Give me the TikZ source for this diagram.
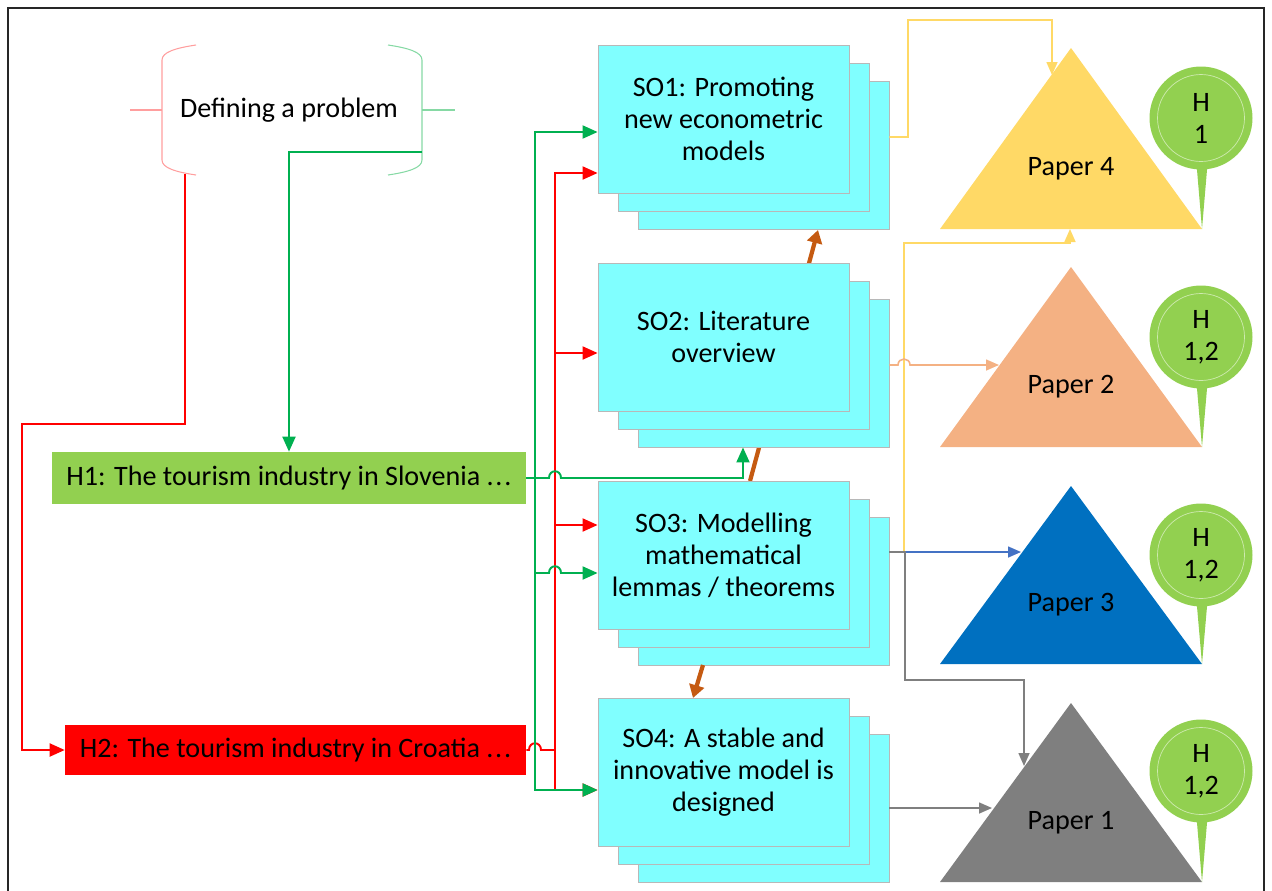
\documentclass[tikz,border=0pt]{standalone}
\usepackage{fontspec}
\setmainfont{Carlito}
\usetikzlibrary{arrows.meta}
\definecolor{socyan}{HTML}{80FFFF}
\definecolor{lgreen}{HTML}{00B050}
\definecolor{lred}{HTML}{FF0000}
\definecolor{hgreen}{HTML}{92D050}
\definecolor{bred}{HTML}{FF9E9E}
\definecolor{bgreen}{HTML}{86D9A4}
\definecolor{orng}{HTML}{C55A11}
\definecolor{yel}{HTML}{FFD966}
\definecolor{salm}{HTML}{F4B183}
\definecolor{bline}{HTML}{4472C4}
\definecolor{pblue}{HTML}{0070C0}
\definecolor{gry}{HTML}{7F7F7F}
\newcommand\mydots{.\kern1pt.\kern1pt.}
\tikzset{
  sobox/.style={draw=black!28, fill=socyan, line width=0.5pt, minimum width=5.02cm, minimum height=2.96cm, inner sep=0pt, align=center},
  gline/.style={draw=lgreen, line width=1.1pt},
  rline/.style={draw=lred, line width=1.1pt},
  tip/.style={-{Triangle[length=3mm,width=2.6mm]}},
  stip/.style={-{Triangle[length=2.6mm,width=2.2mm]}},
  oline/.style={draw=orng, line width=2.4pt, -{Triangle[length=2.6mm,width=3mm]}},
  lbl/.style={align=center, inner sep=0pt},
  pinc/.style={circle, fill=hgreen, minimum size=2.06cm, inner sep=0pt},
  pini/.style={circle, draw=white!55!hgreen, line width=0.4pt, minimum size=1.74cm, inner sep=0pt, align=center},
}
\begin{document}
\begin{tikzpicture}[x=0.02cm, y=-0.02cm, font=\fontsize{16}{18.2}\selectfont]
\useasboundingbox (0,0) rectangle (1272,890);
% frame
\draw[black!85, line width=1.1pt] (8,892) -- (8,8) -- (1264,8) -- (1264,892);

% brace "Defining a problem"
\node[lbl] (def) at (289,110) {Defining a problem};
\coordinate (bl) at (162,110);
\coordinate (br) at (422,110);
\draw[bred, line width=0.6pt] (196,45) .. controls (176,48) and (162,52) .. (162,60) -- (162,160) .. controls (162,168) and (176,172) .. (196,175);
\draw[bred, line width=0.6pt] (130,110) -- (bl);
\draw[bgreen, line width=0.6pt] (388,45) .. controls (408,48) and (422,52) .. (422,60) -- (422,160) .. controls (422,168) and (408,172) .. (388,175);
\draw[bgreen, line width=0.6pt] (br) -- (455,110);

% orange arrow behind SO2
\draw[oline] (750,481) -- (818,230);

% SO boxes
\node[sobox] (so1c) at (763.5,155) {};
\node[sobox] (so1b) at (743.5,137) {};
\node[sobox] (so1) at (723.5,119) {SO1: Promoting\\new econometric\\models};
\node[sobox] (so2c) at (763.5,373) {};
\node[sobox] (so2b) at (743.5,355) {};
\node[sobox] (so2) at (723.5,337) {SO2: Literature\\overview};
\node[sobox] (so3c) at (763.5,591) {};
\node[sobox] (so3b) at (743.5,573) {};
\node[sobox] (so3) at (723.5,555) {SO3: Modelling\\mathematical\\lemmas / theorems};
\node[sobox] (so4c) at (763.5,808) {};
\node[sobox] (so4b) at (743.5,790) {};
\node[sobox] (so4) at (723.5,772) {SO4: A stable and\\innovative model is\\designed};

\draw[oline] (703,665) -- (693,698);

% hypothesis boxes
\node[fill=hgreen, minimum width=9.48cm, minimum height=1.04cm, inner sep=0pt] (h1) at (289,478) {H1: The tourism industry in Slovenia \mydots};
\node[fill=lred, minimum width=9.22cm, minimum height=1cm, inner sep=0pt] (h2) at (295.5,750) {H2: The tourism industry in Croatia \mydots};

% from the problem
\draw[rline, tip] (185,174) -- (185,424) -- (22,424) -- (22,750) -- (h2.west);
\draw[gline, tip] (422,152) -- (289,152) -- (h1.north);

% red trunk from H2
\coordinate (rt) at (555,750);
\coordinate (r1) at (555,173);
\coordinate (r2) at (555,353);
\coordinate (r3) at (555,525);
\coordinate (r4) at (555,790);
\draw[rline] (h2.east) -- (529,750) .. controls (529,741) and (541,741) .. (541,750) -- (rt);
\draw[rline, tip] (rt) -- (r1) -- (r1 -| so1.west);
\draw[rline, tip] (r2) -- (r2 -| so2.west);
\draw[rline, tip] (r3) -- (r3 -| so3.west);
\draw[rline, tip] (rt) -- (r4) -- (r4 -| so4.west);

% green trunk from H1
\coordinate (gt) at (535,478);
\coordinate (g1) at (535,132);
\coordinate (g3) at (535,573);
\coordinate (g4) at (535,790);
\coordinate (hup) at (743,478);
\draw[gline] (h1.east) -- (gt);
\draw[gline, tip] (gt) -- (g1) -- (g1 -| so1.west);
\draw[gline, tip] (gt) -- (g4) -- (g4 -| so4.west);
\draw[gline, tip] (g3) -- (549,573) .. controls (549,564) and (561,564) .. (561,573) -- (g3 -| so3.west);
\draw[gline, tip] (gt) -- (549,478) .. controls (549,469) and (561,469) .. (561,478) -- (hup) -- (hup |- so2c.south);

% papers (triangles)
\coordinate (t4a) at (1071,48);  \coordinate (t4l) at (940,229); \coordinate (t4r) at (1202,229);
\coordinate (t2a) at (1071,267); \coordinate (t2l) at (940,447); \coordinate (t2r) at (1202,447);
\coordinate (t3a) at (1071,486); \coordinate (t3l) at (940,664); \coordinate (t3r) at (1202,664);
\coordinate (t1a) at (1071,703); \coordinate (t1l) at (940,882); \coordinate (t1r) at (1202,882);
\fill[yel] (t4a) -- (t4l) -- (t4r) -- cycle;
\fill[salm] (t2a) -- (t2l) -- (t2r) -- cycle;
\fill[pblue] (t3a) -- (t3l) -- (t3r) -- cycle;
\fill[gry] (t1a) -- (t1l) -- (t1r) -- cycle;
\node[lbl] (p4) at (1071,169) {Paper 4};
\node[lbl] (p2) at (1071,387) {Paper 2};
\node[lbl] (p3) at (1071,605) {Paper 3};
\node[lbl] (p1) at (1071,823) {Paper 1};

% pins
\foreach \n/\cy/\ty/\txt in {a/118/229/1, b/337/447/{1,2}, c/555/664/{1,2}, d/771/882/{1,2}} {
  \fill[hgreen] (1196,\cy+40) -- (1202,\ty) -- (1208,\cy+40) -- cycle;
  \node[pinc] (pin\n) at (1201,\cy) {};
  \node[pini] (pin\n i) at (1201,\cy) {H\\\txt};
}

% connectors to papers
\coordinate (s3o) at (889,552);
\draw[yel, line width=0.9pt, stip] ([yshift=0.36cm]so1c.east) -- (908,137) -- (908,20) -- (1052,20) -- (1052,75);
\draw[yel, line width=0.9pt, stip] (s3o) -- (904,552) -- (904,243) -- (1070,243) -- (1070,229);
\draw[salm, line width=0.9pt, stip] ([yshift=0.16cm]so2c.east) -- (898,365) .. controls (898,357) and (910,357) .. (910,365) -- (999,365);
\draw[bline, line width=0.9pt, stip] (s3o) -- (1021,552);
\draw[gry, line width=0.9pt, stip] (s3o) -- (905,552) -- (905,680) -- (1024,680) -- (1024,766);
\draw[gry, line width=0.9pt, stip] (so4c.east) -- (992,808);
\end{tikzpicture}
\end{document}
